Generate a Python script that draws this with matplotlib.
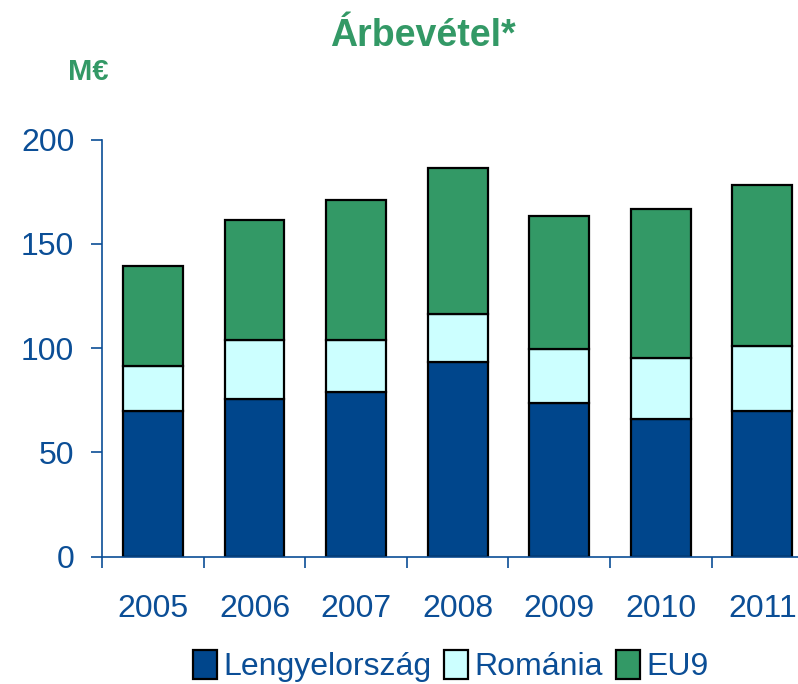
import numpy as np
import matplotlib.pyplot as plt
from matplotlib.ticker import FixedLocator

years = ['2005', '2006', '2007', '2008', '2009', '2010', '2011']
lengyel = [70, 75.5, 79, 93.5, 73.5, 66, 70]
romania = [21.5, 28.5, 25, 23, 26, 29.5, 31]
eu9 = [48, 57.5, 67, 70, 64, 71, 77]

blue = '#00468C'
cyan = '#CCFFFF'
green = '#339966'
txt = '#0B4E96'
font = ['Liberation Sans Narrow', 'Liberation Sans', 'DejaVu Sans']

fig = plt.figure(figsize=(7.98, 6.84), dpi=100)
ax = fig.add_axes([0.128, 0.186, 0.891, 0.61])

x = np.arange(len(years))
w = 0.59
b1 = ax.bar(x, lengyel, w, color=blue, edgecolor='black', linewidth=1.6, label='Lengyelország')
b2 = ax.bar(x, romania, w, bottom=lengyel, color=cyan, edgecolor='black', linewidth=1.6, label='Románia')
bot2 = np.array(lengyel) + np.array(romania)
b3 = ax.bar(x, eu9, w, bottom=bot2, color=green, edgecolor='black', linewidth=1.6, label='EU9')

ax.set_xlim(-0.5, len(years) - 0.5)
ax.set_ylim(0, 200)
ax.set_yticks([0, 50, 100, 150, 200])
ax.set_xticks(x)
ax.set_xticklabels(years)
ax.xaxis.set_minor_locator(FixedLocator(np.arange(-0.5, len(years), 1)))
ax.tick_params(axis='x', which='major', length=0, pad=27, labelsize=23, labelcolor=txt)
ax.tick_params(axis='x', which='minor', length=8, width=1.2, color=txt, direction='out')
ax.tick_params(axis='y', length=8, width=1.2, color=txt, labelsize=23, labelcolor=txt, pad=12)
for lab in ax.get_xticklabels() + ax.get_yticklabels():
    lab.set_family(font)

for s in ['top', 'right']:
    ax.spines[s].set_visible(False)
for s in ['left', 'bottom']:
    ax.spines[s].set_color(txt)
    ax.spines[s].set_linewidth(1.2)

fig.text(0.53, 0.947, 'Árbevétel*', ha='center', va='center', color=green,
         fontsize=27, fontweight='bold', family=font)
fig.text(0.11, 0.895, 'M€', ha='center', va='center', color=green,
         fontsize=21, fontweight='bold', family=font)

leg = fig.legend(handles=[b1, b2, b3], loc='center', bbox_to_anchor=(0.565, 0.026), ncol=3,
                 frameon=False, handlelength=0.75, handleheight=1.0, handletextpad=0.2,
                 columnspacing=0.4, prop={'family': font, 'size': 23})
for t in leg.get_texts():
    t.set_color(txt)

fig.savefig('out.png', dpi=100)
